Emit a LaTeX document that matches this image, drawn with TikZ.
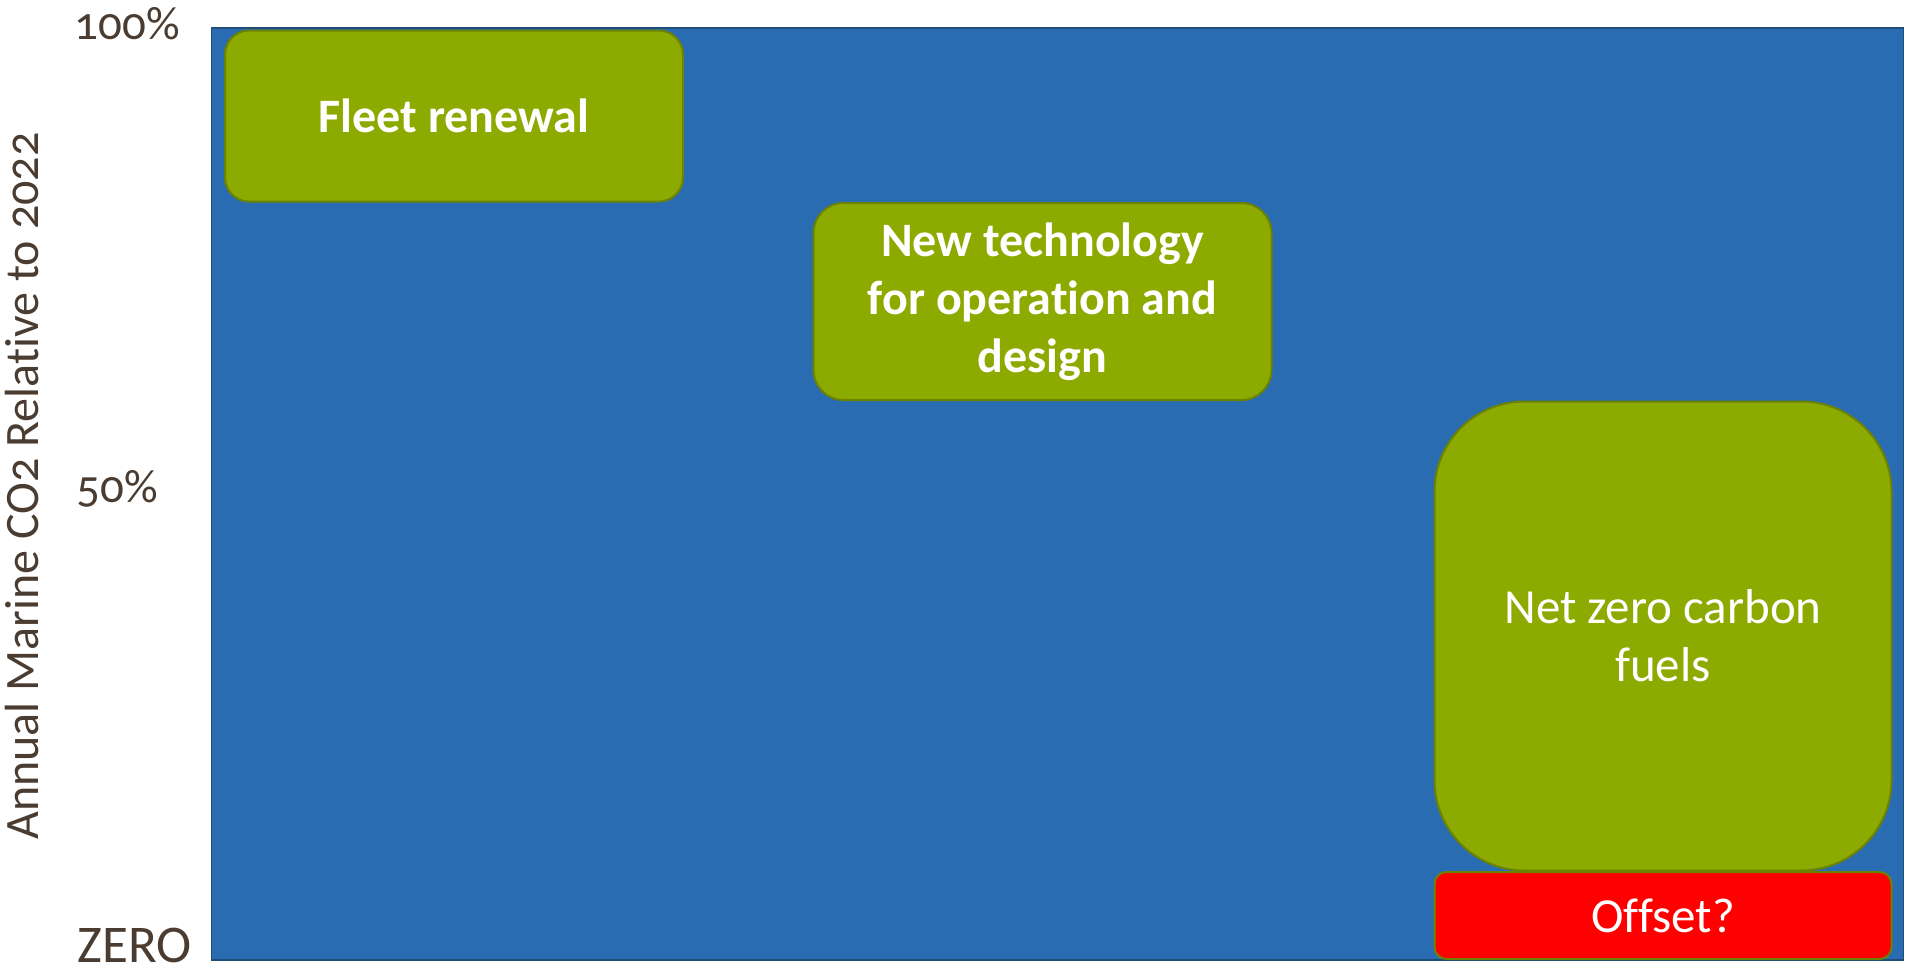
\documentclass[tikz,border=0pt]{standalone}
\usepackage{fontspec}
\setmainfont{Carlito}[Numbers=OldStyle, Ligatures=NoCommon]
\begin{document}
\definecolor{chartblue}{HTML}{2A6CB1}
\definecolor{chartedge}{HTML}{1F4E79}
\definecolor{leaf}{HTML}{8CAA00}
\definecolor{leafedge}{HTML}{6B8300}
\definecolor{alarm}{HTML}{FF0000}
\definecolor{axisink}{HTML}{4A3C31}
\begin{tikzpicture}[x=1pt,y=-1pt,
  stage/.style={draw=leafedge, line width=2pt, fill=leaf, text=white,
    inner sep=0pt, align=center, font=\fontsize{49}{58}\selectfont},
  axislabel/.style={text=axisink, inner sep=0pt, font=\fontsize{47}{55}\selectfont}]
  \useasboundingbox (0,0) rectangle (1906,972);
  % plot area
  \node[draw=chartedge, line width=1.5pt, fill=chartblue, inner sep=0pt,
        minimum width=1692pt, minimum height=932pt] (area) at (1057.5,494) {};
  % reduction stages
  \node[stage, rounded corners=24pt, minimum width=458pt, minimum height=171pt,
        font=\fontsize{48}{58}\selectfont\bfseries] (fleet) at (454,116) {Fleet renewal};
  \node[stage, rounded corners=30pt, minimum width=458pt, minimum height=197pt,
        font=\fontsize{48}{58}\selectfont\bfseries] (tech) at (1042.5,301.5)
        {New technology\\for operation and\\design};
  \node[stage, rounded corners=90pt, minimum width=457pt, minimum height=469pt] (fuels)
        at (1663,636) {Net zero carbon\\fuels};
  \node[stage, fill=alarm, rounded corners=12pt, minimum width=457pt, minimum height=87pt]
        (offset) at (1663,915.5) {Offset?};
  % axis
  \node[axislabel, anchor=east] (top) at (180,24) {100\%};
  \node[axislabel, anchor=east] (mid) at (158,489) {50\%};
  \node[axislabel, anchor=base east, font=\fontsize{53}{60}\selectfont] (zero) at (192,962) {ZERO};
  \node[axislabel, rotate=90, font=\fontsize{48}{56}\selectfont] (ytitle) at (22,486)
        {Annual Marine CO2 Relative to 2022};
\end{tikzpicture}
\end{document}
